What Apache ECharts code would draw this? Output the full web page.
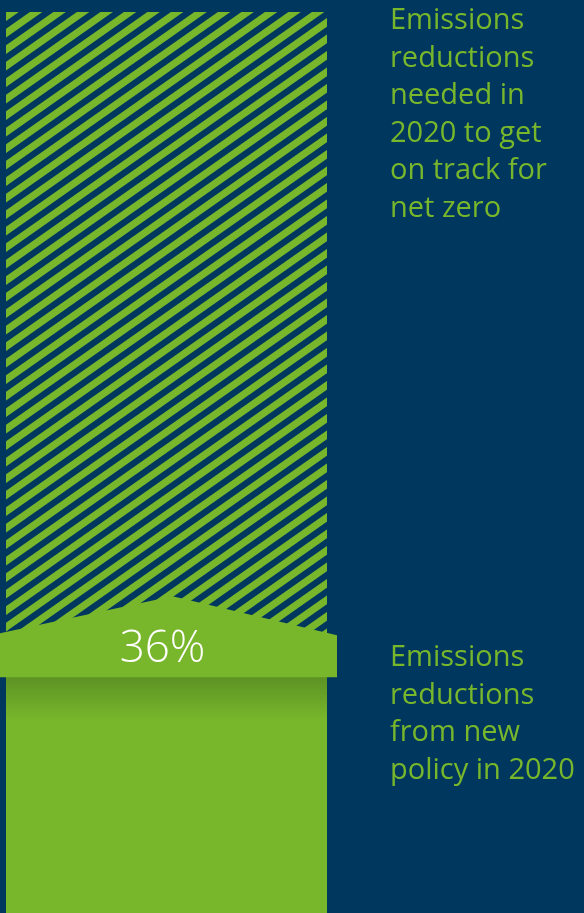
<!DOCTYPE html>
<html><head><meta charset="utf-8">
<script src="https://cdn.jsdelivr.net/npm/echarts@6/dist/echarts.min.js"></script>
<style>html,body{margin:0;padding:0;background:#00375e;}#c{width:584px;height:913px;}</style>
</head><body><div id="c"></div>
<script>
const categories = ['2020'];
const newPolicy = [36];
const remainingNeeded = [64];
const valueLabels = ['36%'];
const textNeeded = ['Emissions', 'reductions', 'needed in', '2020 to get', 'on track for', 'net zero'];
const textPolicy = ['Emissions', 'reductions', 'from new', 'policy in 2020'];

const NAVY = '#00375e';
const GREEN = '#78b72b';
const FONT = '"Open Sans", "Noto Sans", sans-serif';

function stripePattern() {
  const W = 47, H = 33, g = 0.53;
  const c = document.createElement('canvas');
  c.width = W; c.height = H;
  const x = c.getContext('2d');
  x.fillStyle = NAVY; x.fillRect(0, 0, W, H);
  x.fillStyle = GREEN;
  const ph = H / 2, s = H / W;
  for (let k = -4; k <= 6; k++) {
    const y0 = k * ph;
    x.beginPath();
    x.moveTo(0, y0);
    x.lineTo(W, y0 - s * W);
    x.lineTo(W, y0 - s * W + g * ph);
    x.lineTo(0, y0 + g * ph);
    x.closePath();
    x.fill();
  }
  return c;
}

const chart = echarts.init(document.getElementById('c'), null, { renderer: 'canvas' });
chart.setOption({
  backgroundColor: NAVY,
  animation: false,
  grid: { left: 6, right: 257, top: 12, height: 1005, outerBoundsMode: 'none', containLabel: false },
  xAxis: { type: 'category', data: categories, show: false },
  yAxis: { type: 'value', min: 0, max: 100, show: false },
  series: [
    {
      type: 'bar', stack: 'total', barWidth: '100%', data: newPolicy,
      itemStyle: {
        color: new echarts.graphic.LinearGradient(0, 0, 0, 1, [
          { offset: 0, color: '#4f8520' },
          { offset: 0.06, color: '#5d9224' },
          { offset: 0.18, color: GREEN },
          { offset: 1, color: GREEN }
        ])
      }
    },
    {
      type: 'bar', stack: 'total', barWidth: '100%', data: remainingNeeded,
      itemStyle: { color: { image: stripePattern(), repetition: 'repeat' } }
    },
    {
      type: 'custom', z: 10,
      data: newPolicy.map((v, i) => [i, v]),
      renderItem: function (params, api) {
        const p = api.coord([api.value(0), api.value(1)]);
        const bw = api.size([1, 0])[0];
        const l = p[0] - bw / 2 - 6, r = p[0] + bw / 2 + 10, y = p[1];
        const px = p[0] + 6;
        return {
          type: 'group',
          children: [
            { type: 'polygon', shape: { points: [[l, y - 22], [px, y - 59], [r, y - 20], [r, y + 22], [l, y + 22]] }, style: { fill: GREEN } },
            { type: 'text', style: { text: valueLabels[params.dataIndex], x: p[0] - 4, y: y - 6, align: 'center', verticalAlign: 'middle', fill: '#ffffff', font: '300 44px ' + FONT } }
          ]
        };
      }
    }
  ],
  graphic: [
    { type: 'text', left: 390, top: 2, style: { text: textNeeded.join('\n'), fill: GREEN, fontSize: 29, lineHeight: 37.5, fontFamily: FONT } },
    { type: 'text', left: 390, top: 639, style: { text: textPolicy.join('\n'), fill: GREEN, fontSize: 29, lineHeight: 37.5, fontFamily: FONT } }
  ]
});
</script></body></html>
